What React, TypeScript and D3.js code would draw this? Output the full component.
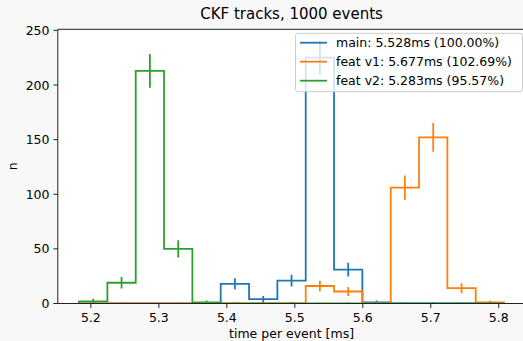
import React from "react";
import * as d3 from "d3";

const TITLE = "CKF tracks, 1000 events";
const X_LABEL = "time per event [ms]";
const Y_LABEL = "n";

// histogram binning (common to all series)
const BIN_LO = 5.1826;
const BIN_HI = 5.8078;
const N_BINS = 15;

const SERIES_NAMES = ["main", "feat v1", "feat v2"];
const SERIES_LABELS = [
  "main: 5.528ms (100.00%)",
  "feat v1: 5.677ms (102.69%)",
  "feat v2: 5.283ms (95.57%)",
];
const SERIES_COLORS = ["#1f77b4", "#ff7f0e", "#2ca02c"];

const MAIN_COUNTS = [0, 0, 0, 0, 0, 18, 4, 21, 225, 31, 1, 0, 0, 0, 0];
const FEATV1_COUNTS = [0, 0, 0, 0, 0, 0, 0, 0, 16, 11, 0, 106, 152, 14, 1];
const FEATV2_COUNTS = [2, 19, 213, 50, 1, 0, 0, 0, 0, 0, 0, 0, 0, 0, 0];

const X_TICKS = [5.2, 5.3, 5.4, 5.5, 5.6, 5.7, 5.8];
const Y_TICKS = [0, 50, 100, 150, 200, 250];

const FONT = "DejaVu Sans, sans-serif";

export default function App() {
  const W = 523;
  const H = 341;
  const left = 57.8;
  const right = 525.3;
  const top = 29.3;
  const bottom = 303.5;

  const edges = d3.range(N_BINS + 1).map((i) => BIN_LO + (i * (BIN_HI - BIN_LO)) / N_BINS);
  const span = BIN_HI - BIN_LO;
  const x = d3
    .scaleLinear()
    .domain([BIN_LO - 0.05 * span, BIN_HI + 0.05 * span])
    .range([left, right]);
  const y = d3.scaleLinear().domain([0, 251]).range([bottom, top]);

  const allCounts = [MAIN_COUNTS, FEATV1_COUNTS, FEATV2_COUNTS];
  const lw = 1.8;

  const stepPath = (counts: number[]) => {
    const pts: [number, number][] = [[x(edges[0]), y(0)]];
    counts.forEach((c, i) => {
      pts.push([x(edges[i]), y(c)]);
      pts.push([x(edges[i + 1]), y(c)]);
    });
    pts.push([x(edges[N_BINS]), y(0)]);
    return d3.line()(pts) || "";
  };

  return (
    <svg width={W} height={H} style={{ display: "block", position: "absolute", left: 0, top: 0 }}>
      <rect x={0} y={0} width={W} height={H} fill="#f8f8f8" />
      <rect x={left} y={top} width={right - left} height={bottom - top} fill="#ffffff" />
      <defs>
        <clipPath id="plotclip">
          <rect x={left} y={top} width={right - left} height={bottom - top} />
        </clipPath>
      </defs>

      <g clipPath="url(#plotclip)">
        {allCounts.map((counts, si) => (
          <g key={SERIES_NAMES[si]}>
            <path d={stepPath(counts)} fill="none" stroke={SERIES_COLORS[si]} strokeWidth={lw} />
            {counts.map((c, i) => {
              const cx = x((edges[i] + edges[i + 1]) / 2);
              const e = Math.sqrt(c);
              return (
                <path
                  key={i}
                  d={`M${cx},${y(c - e)}L${cx},${y(c + e)}`}
                  stroke={SERIES_COLORS[si]}
                  strokeWidth={lw}
                  strokeLinecap="square"
                  fill="none"
                />
              );
            })}
          </g>
        ))}
      </g>

      {/* spines */}
      <g stroke="#222" strokeWidth={1} fill="none">
        <line x1={left} y1={top} x2={left} y2={bottom} />
        <line x1={left} y1={bottom} x2={right} y2={bottom} />
        <line x1={left} y1={top} x2={right} y2={top} />
        <line x1={right} y1={top} x2={right} y2={bottom} />
      </g>

      {/* x ticks */}
      {X_TICKS.map((t) => (
        <g key={t}>
          <line x1={x(t)} x2={x(t)} y1={bottom} y2={bottom + 4.4} stroke="#222" strokeWidth={1} />
          <text x={x(t)} y={322.3} textAnchor="middle" fontFamily={FONT} fontSize={12.5} fill="#000">
            {t.toFixed(1)}
          </text>
        </g>
      ))}

      {/* y ticks */}
      {Y_TICKS.map((t) => (
        <g key={t}>
          <line x1={left - 4.4} x2={left} y1={y(t)} y2={y(t)} stroke="#222" strokeWidth={1} />
          <text x={49.5} y={y(t)} dy="0.36em" textAnchor="end" fontFamily={FONT} fontSize={12.5} fill="#000">
            {t}
          </text>
        </g>
      ))}

      {/* labels */}
      <text x={(left + right) / 2} y={337.5} textAnchor="middle" fontFamily={FONT} fontSize={12.5} fill="#000">
        {X_LABEL}
      </text>
      <text
        transform={`translate(16.7,${(top + bottom) / 2}) rotate(-90)`}
        textAnchor="middle"
        fontFamily={FONT}
        fontSize={12.5}
        fill="#000"
      >
        {Y_LABEL}
      </text>
      <text x={(left + right) / 2} y={19.3} textAnchor="middle" fontFamily={FONT} fontSize={15} fill="#000">
        {TITLE}
      </text>

      {/* legend */}
      <g>
        <rect
          x={295.5}
          y={33.3}
          width={227}
          height={58.4}
          rx={2.5}
          fill="#ffffff"
          fillOpacity={0.8}
          stroke="#cccccc"
          strokeWidth={1}
        />
        {SERIES_LABELS.map((lab, i) => {
          const ly = 42.7 + i * 19;
          return (
            <g key={lab}>
              <line x1={300} x2={327} y1={ly} y2={ly} stroke={SERIES_COLORS[i]} strokeWidth={lw} />
              <text x={336} y={ly} dy="0.36em" fontFamily={FONT} fontSize={12.5} fill="#000">
                {lab}
              </text>
            </g>
          );
        })}
      </g>
    </svg>
  );
}
